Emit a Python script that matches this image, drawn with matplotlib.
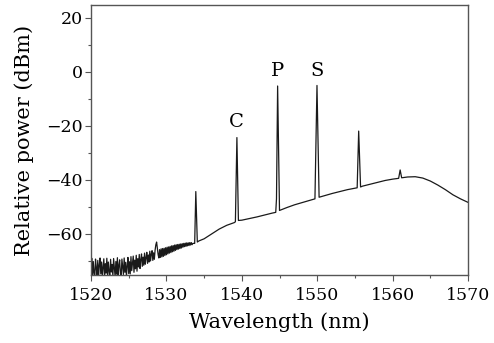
import numpy as np
import matplotlib
matplotlib.use('Agg')
import matplotlib.pyplot as plt
from matplotlib.ticker import MultipleLocator

# noisy low-wavelength part of the spectrum (0.1 nm sampling from 1520 nm)
noise_start = 1520.0
noise_step = 0.1
noise_power = [
    # 1520.0 - 1525.0
    -72.1, -69.0, -75.9, -70.2, -74.3, -76.4, -69.3, -72.7, -75.1, -69.8,
    -76.2, -71.5, -68.9, -74.8, -70.4, -75.6, -72.2, -69.2, -76.0, -71.0,
    -74.5, -69.0, -75.3, -70.4, -73.8, -76.3, -69.4, -74.1, -71.3, -75.7,
    -69.1, -72.5, -76.0, -70.2, -74.9, -68.8, -75.4, -71.6, -69.6, -74.6,
    -76.2, -69.3, -72.3, -75.0, -68.9, -74.2, -70.5, -75.8, -71.9, -68.7,
    -74.7,
    # 1525.1 - 1528.4
    -70.3, -74.8, -68.4, -73.6, -70.8, -68.2, -74.2, -69.7, -72.9, -67.9,
    -73.8, -69.2, -72.2, -67.6, -72.8, -69.5, -67.4, -72.0, -68.6, -71.6,
    -67.1, -71.2, -68.8, -66.8, -70.9, -67.8, -70.4, -66.4, -70.0, -67.4,
    -66.2, -69.8, -67.0, -69.4,
    # 1528.5 - 1533.5
    -66.0, -64.0, -63.0, -65.3, -67.6, -68.9, -65.8, -68.7, -65.5, -68.5,
    -65.4, -68.3, -65.3, -68.0, -65.1, -67.7, -64.9, -67.4, -64.8, -67.1,
    -64.6, -66.9, -64.4, -66.6, -64.3, -66.4, -64.1, -66.1, -64.0, -65.8,
    -63.9, -65.6, -63.8, -65.4, -63.7, -65.2, -63.6, -64.9, -63.5, -64.7,
    -63.4, -64.6, -63.3, -64.4, -63.3, -64.3, -63.2, -64.1, -63.2, -64.0,
    -63.5]

# rest of the spectrum: wavelength (nm) and power (dBm)
wl_rest = [1533.75, 1533.9, 1534.1, 1534.3, 1535.0, 1536.0, 1537.0, 1538.0, 1539.0,
           1539.15, 1539.35, 1539.55, 1540.0, 1541.0, 1542.0, 1543.0, 1544.0, 1544.5,
           1544.6, 1544.75, 1545.0, 1546.0, 1547.0, 1548.0, 1549.0, 1549.7,
           1549.97, 1550.25, 1551.0, 1552.0, 1553.0, 1554.0, 1555.3,
           1555.5, 1555.75, 1556.0, 1557.0, 1558.0, 1559.0, 1560.0, 1560.8,
           1561.0, 1561.2, 1562.0, 1563.0, 1564.0, 1565.0, 1566.0, 1567.0,
           1568.0, 1569.0, 1570.0]
pw_rest = [-63.5, -44.3, -63.0, -62.6, -61.8, -60.0, -58.2, -56.8, -55.8,
           -55.5, -24.3, -55.0, -54.9, -54.3, -53.7, -53.0, -52.3, -52.0,
           -47.0, -5.2, -51.3, -50.2, -49.2, -48.4, -47.6, -47.0,
           -5.0, -46.4, -45.8, -45.0, -44.3, -43.6, -42.9,
           -21.9, -42.6, -42.3, -41.6, -40.9, -40.2, -39.7, -39.4,
           -36.3, -39.2, -38.9, -38.8, -39.3, -40.4, -41.9, -43.6,
           -45.5, -47.0, -48.3]

# peak labels
labels = ['C', 'P', 'S']
label_x = [1539.3, 1544.7, 1550.0]
label_y = [-18.5, 0.2, 0.2]

wl_noise = noise_start + noise_step * np.arange(len(noise_power))
wl = np.concatenate([wl_noise, wl_rest])
pw = np.concatenate([noise_power, pw_rest])

plt.rcParams['font.family'] = 'DejaVu Serif'
fig = plt.figure(figsize=(4.94, 3.43), dpi=100)
ax = fig.add_axes([0.1842, 0.1983, 0.7632, 0.7871])

ax.plot(wl, pw, color='#1a1a1a', lw=0.9)

for s, x, y in zip(labels, label_x, label_y):
    ax.text(x, y, s, ha='center', va='center', fontsize=14)

ax.set_xlim(1520, 1570)
ax.set_ylim(-75.2, 24.8)
ax.set_xticks([1520, 1530, 1540, 1550, 1560, 1570])
ax.set_yticks([20, 0, -20, -40, -60])
ax.set_yticklabels(['20', '0', '\u221220', '\u221240', '\u221260'])
ax.xaxis.set_minor_locator(MultipleLocator(5))
ax.yaxis.set_minor_locator(MultipleLocator(10))
ax.tick_params(which='major', direction='out', length=4, width=0.8,
               labelsize=12.5, color='#555555')
ax.tick_params(which='minor', direction='out', length=2.5, width=0.8, color='#555555')
ax.tick_params(axis='x', pad=5)
ax.tick_params(axis='y', pad=2)
for sp in ax.spines.values():
    sp.set_color('#555555')
    sp.set_linewidth(1.0)

ax.set_xlabel('Wavelength (nm)', fontsize=15, labelpad=6)
ax.set_ylabel('Relative power (dBm)', fontsize=15, labelpad=9)

fig.savefig('out.png', dpi=100)
